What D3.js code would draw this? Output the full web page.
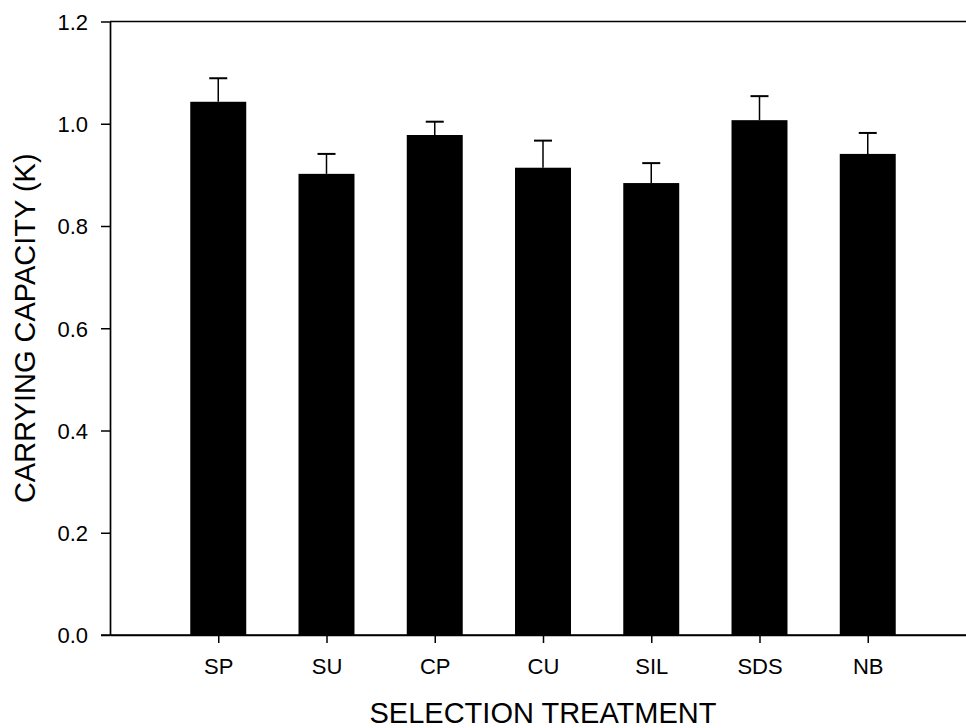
<!DOCTYPE html>
<html>
<head>
<meta charset="utf-8">
<script src="https://cdn.jsdelivr.net/npm/d3@7"></script>
<style>
  html, body { margin: 0; padding: 0; background: #fff; }
  svg { display: block; }
  text { font-family: "Liberation Sans", Arial, sans-serif; fill: #000; }
</style>
</head>
<body>
<svg id="chart" width="966" height="728"></svg>
<script>
// Carrying capacity (K) by selection treatment, mean + upper error
const categories = ["SP", "SU", "CP", "CU", "SIL", "SDS", "NB"];
const means      = [1.043, 0.902, 0.978, 0.914, 0.884, 1.007, 0.941];
const errors     = [0.046, 0.039, 0.026, 0.053, 0.039, 0.047, 0.041];
const yTicks     = [0.0, 0.2, 0.4, 0.6, 0.8, 1.0, 1.2];

const svg = d3.select("#chart");
const plotLeft = 110, plotRight = 976, plotTop = 21.5, plotBottom = 635;

const x = d3.scalePoint().domain(categories).range([plotLeft, plotRight]).padding(1);
const y = d3.scaleLinear().domain([0, 1.2]).range([plotBottom, plotTop]);
const barW = x.step() * 0.517;
const capW = 18;

const rows = categories.map((c, i) => ({ c, m: means[i], e: errors[i] }));

// error bars (upper only), drawn under the bars
const eb = svg.append("g");
eb.selectAll("line.stem").data(rows).join("line")
  .attr("class", "stem")
  .attr("x1", d => x(d.c)).attr("x2", d => x(d.c))
  .attr("y1", d => y(d.m)).attr("y2", d => y(d.m + d.e))
  .attr("stroke", "#000").attr("stroke-width", 1.5);
eb.selectAll("line.cap").data(rows).join("line")
  .attr("class", "cap")
  .attr("x1", d => x(d.c) - capW / 2).attr("x2", d => x(d.c) + capW / 2)
  .attr("y1", d => y(d.m + d.e)).attr("y2", d => y(d.m + d.e))
  .attr("stroke", "#000").attr("stroke-width", 2);

// bars
svg.append("g").selectAll("rect").data(rows).join("rect")
  .attr("x", d => x(d.c) - barW / 2)
  .attr("width", barW)
  .attr("y", d => y(d.m))
  .attr("height", d => y(0) - y(d.m))
  .attr("fill", "#000");

// y axis
const yAxis = svg.append("g").attr("transform", `translate(${plotLeft},0)`)
  .call(d3.axisLeft(y).tickValues(yTicks).tickFormat(d3.format(".1f"))
    .tickSize(9).tickSizeOuter(0).tickPadding(13));
yAxis.selectAll("text").style("font-size", "22px").attr("dy", "0.36em");

// x axis
const xAxis = svg.append("g").attr("transform", `translate(0,${plotBottom})`)
  .call(d3.axisBottom(x).tickSize(8).tickSizeOuter(0).tickPadding(15));
xAxis.selectAll("text").style("font-size", "22px");

svg.selectAll(".domain").attr("stroke", "#000").attr("stroke-width", 1.7);
svg.selectAll(".tick line").attr("stroke", "#000").attr("stroke-width", 1.5);

// extend x axis line back to the y axis and draw top frame
svg.append("line").attr("x1", plotLeft - 9).attr("x2", plotRight)
  .attr("y1", plotBottom).attr("y2", plotBottom)
  .attr("stroke", "#000").attr("stroke-width", 1.7);
svg.append("line").attr("x1", plotLeft).attr("x2", plotRight)
  .attr("y1", plotTop).attr("y2", plotTop)
  .attr("stroke", "#000").attr("stroke-width", 1.7);

// axis titles
svg.append("text")
  .attr("x", (x(categories[0]) + x(categories[categories.length - 1])) / 2)
  .attr("y", 723)
  .attr("text-anchor", "middle")
  .style("font-size", "29px")
  .text("SELECTION TREATMENT");

svg.append("text")
  .attr("transform", `translate(35,${(plotTop + plotBottom) / 2}) rotate(-90)`)
  .attr("text-anchor", "middle")
  .style("font-size", "29px")
  .text("CARRYING CAPACITY (K)");
</script>
</body>
</html>
